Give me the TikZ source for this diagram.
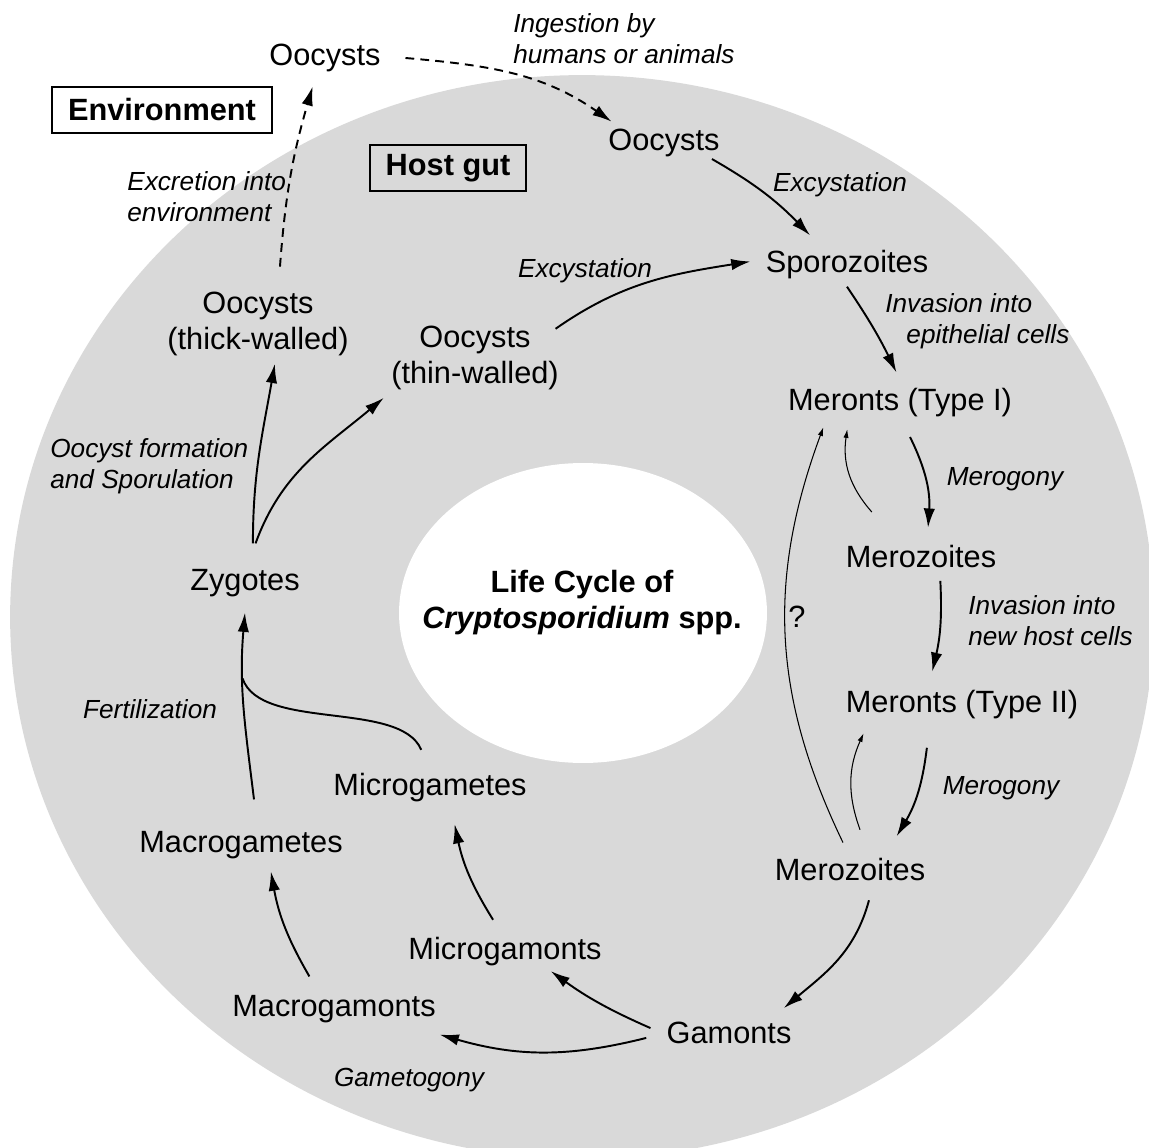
\documentclass[tikz,border=0pt]{standalone}
\usepackage{fontspec}
\setmainfont{Liberation Sans}
\usepackage{tikz}
\usetikzlibrary{arrows.meta}
\definecolor{gutgray}{HTML}{D9D9D9}
\newcommand{\stagefont}{\fontsize{17.5}{21}\selectfont}
\newcommand{\notefont}{\fontsize{14.9}{17.6}\selectfont\itshape}

\begin{document}
\begin{tikzpicture}[x=0.02cm, y=-0.02cm,
    stage/.style={font=\stagefont, align=center, inner sep=4pt},
    note/.style={font=\notefont, align=left, inner sep=0pt},
    area/.style={draw, line width=1pt, font=\stagefont\bfseries, inner xsep=9pt, minimum height=26.6pt},
    flow/.style={line width=1.1pt, -{Latex[length=11pt,width=6.5pt]}},
    weak/.style={line width=0.6pt, -{Latex[length=5pt,width=3pt]}},
    transfer/.style={flow, dash pattern=on 5pt off 3.5pt}]
      \clip (0,0) rectangle (1149,1148);
      \fill[gutgray] (582,617) ellipse [x radius=11.44cm, y radius=10.84cm];
      \fill[white] (583,613) ellipse [x radius=3.68cm, y radius=3cm];

      \node[area] (env) at (162,110) {Environment};
      \node[area] (gut) at (448,168) {Host gut};
      \node[stage, font=\fontsize{17.5}{20.5}\selectfont\bfseries] (title) at (582,603) {Life Cycle of\\\textit{Cryptosporidium} spp.};

      \node[stage] (ooenv) at (325,58) {Oocysts};
      \node[stage] (oo) at (664,143) {Oocysts};
      \node[stage] (spo) at (847,265) {Sporozoites};
      \node[stage] (mer1) at (900,403) {Meronts (Type I)};
      \node[stage] (mz1) at (921,557) {Merozoites};
      \node[stage] (mer2) at (962,705) {Meronts (Type II)};
      \node[stage] (mz2) at (850,870) {Merozoites};
      \node[stage] (gam) at (729,1033) {Gamonts};
      \node[stage] (micg) at (505,952) {Microgamonts};
      \node[stage] (macg) at (334,1009) {Macrogamonts};
      \node[stage] (micgt) at (430,788) {Microgametes};
      \node[stage] (macgt) at (241,845) {Macrogametes};
      \node[stage] (zyg) at (245,583) {Zygotes};
      \node[stage] (thick) at (258,324) {Oocysts\\(thick-walled)};
      \node[stage] (thin) at (475,358) {Oocysts\\(thin-walled)};

      \node[note, anchor=west] (ingest) at (513,39) {Ingestion by\\humans or animals};
      \node[note, anchor=west] (excr) at (127,197) {Excretion into\\environment};
      \node[note] (exc1) at (840,185) {Excystation};
      \node[note] (exc2) at (585,271) {Excystation};
      \node[note, anchor=west] (inv1) at (885,321) {Invasion into\\\hspace*{12pt}epithelial cells};
      \node[note] (mg1) at (1005,479) {Merogony};
      \node[note, anchor=west] (inv2) at (968,621) {Invasion into\\new host cells};
      \node[note] (mg2) at (1001,788) {Merogony};
      \node[note] (gtg) at (409,1080) {Gametogony};
      \node[note] (fert) at (150,709) {Fertilization};
      \node[note, anchor=west] (ocs) at (50,466) {Oocyst formation\\and Sporulation};

      \draw[transfer] ([xshift=10pt]ooenv.east) to[out=-5, in=145] ([xshift=6pt]oo.north west);
      \draw[transfer] ([xshift=12.5pt,yshift=10pt]thick.north) to[bend left=6] ([xshift=-7pt,yshift=-4pt]ooenv.south);
      \draw[flow] ([xshift=-8.5pt,yshift=3pt]oo.south east) to[bend left=8] ([xshift=-21pt,yshift=4.5pt]spo.north);
      \draw[flow] ([xshift=-6pt,yshift=-6pt]thin.north east) to[out=35, in=189] ([xshift=-4.5pt,yshift=2pt]spo.west);
      \draw[flow] (spo.south) to[bend left=4] ([xshift=-2pt,yshift=5pt]mer1.north);
      \draw[flow] ([xshift=5.7pt,yshift=-7pt]mer1.south) to[bend left=15] ([xshift=4pt,yshift=6pt]mz1.north);
      \draw[weak] ([xshift=-28pt,yshift=15pt]mz1.north) to[bend left=25] ([xshift=-30pt,yshift=-2.5pt]mer1.south);
      \draw[flow] ([xshift=11pt,yshift=-3pt]mz1.south) to[bend left=8] ([xshift=-17pt,yshift=6.5pt]mer2.north);
      \draw[flow] ([xshift=-20pt,yshift=-12pt]mer2.south) to[bend left=12] ([xshift=26.5pt,yshift=8.5pt]mz2.north);
      \draw[weak] ([xshift=5.7pt,yshift=12.3pt]mz2.north) to[bend left=22] ([xshift=-56pt,yshift=-3.7pt]mer2.south);
      \draw[weak] ([xshift=-4pt,yshift=5pt]mz2.north) to[bend left=23] node[pos=0.55, anchor=west, font=\stagefont, inner sep=1.5pt] (q) {?} ([xshift=-43.6pt,yshift=-1.4pt]mer1.south);
      \draw[flow] ([xshift=10.8pt,yshift=-6.6pt]mz2.south) to[out=-105, in=40] ([xshift=-8.5pt,yshift=3.8pt]gam.north east);
      \draw[flow] ([xshift=-5pt,yshift=2.8pt]gam.west) to[bend left=6] ([xshift=26pt,yshift=1.5pt]micg.south);
      \draw[flow] ([xshift=-7.4pt,yshift=-2.8pt]gam.west) to[bend left=15] ([xshift=-2pt,yshift=-2.5pt]macg.south east);
      \draw[flow] ([xshift=-14pt,yshift=6.5pt]macg.north) to[bend left=10] ([xshift=17pt,yshift=-3pt]macgt.south);
      \draw[flow] ([xshift=-6.8pt,yshift=6pt]micg.north) to[bend left=10] ([xshift=14pt,yshift=-8.2pt]micgt.south);
      \draw[flow] ([xshift=7.4pt,yshift=13.9pt]macgt.north) to[out=97, in=-95] node[coordinate, pos=0.66] (fuse) {} ([yshift=-4.8pt]zyg.south);
      \draw[line width=1.1pt] ([xshift=-5pt,yshift=9.4pt]micgt.north) .. controls +(-21,-50) and +(18,53) .. (fuse);
      \draw[flow] ([xshift=4.5pt,yshift=10.5pt]zyg.north) to[out=90, in=-100] ([xshift=9.6pt]thick.south);
      \draw[flow] ([xshift=6pt,yshift=10.5pt]zyg.north) to[out=70, in=-140] (thin.south west);
    \end{tikzpicture}
\end{document}
